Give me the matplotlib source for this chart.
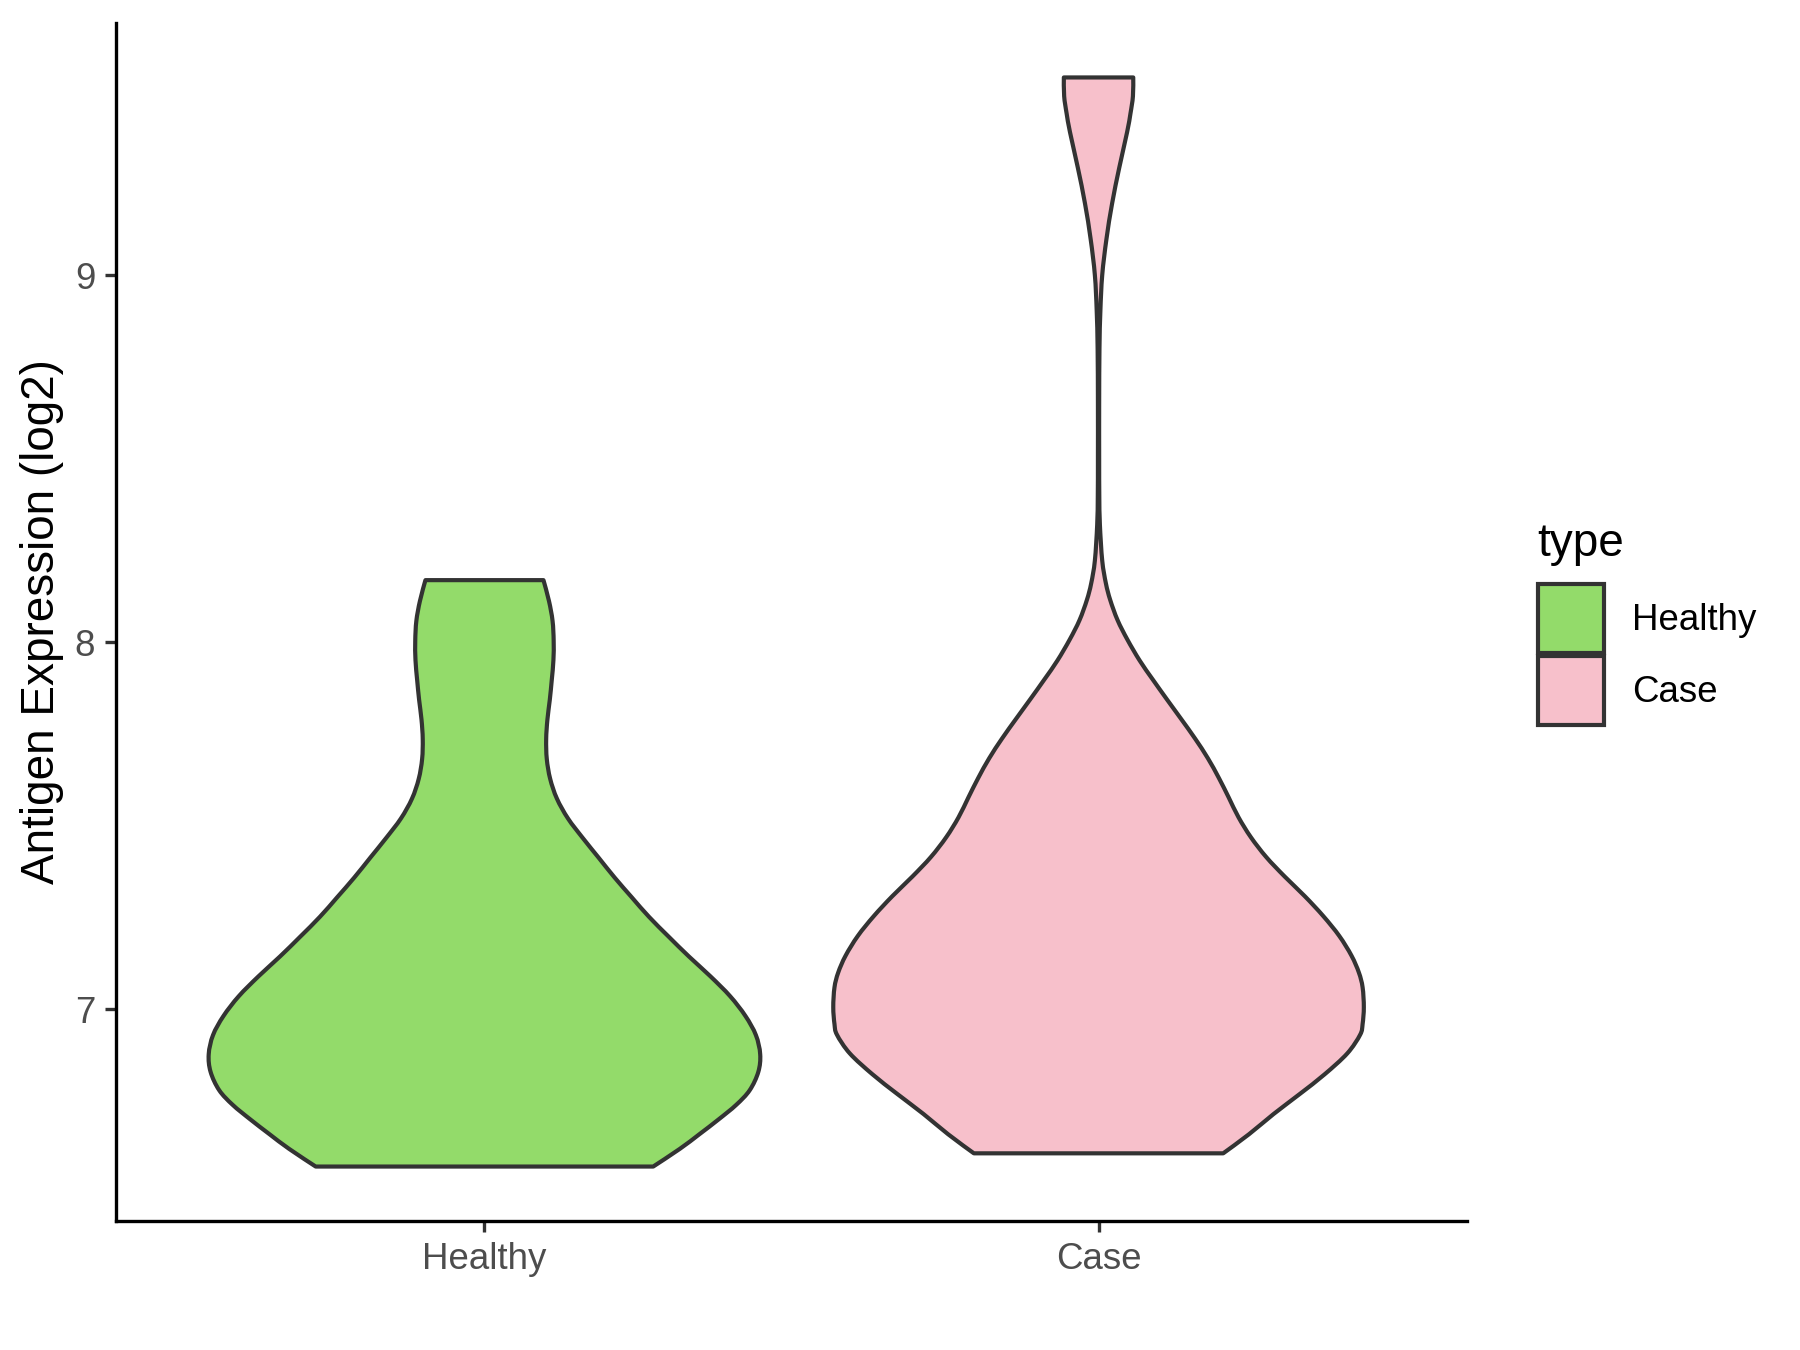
import numpy as np
import matplotlib
matplotlib.use("Agg")
import matplotlib.pyplot as plt
from matplotlib.path import Path
from matplotlib.patches import PathPatch, Patch, Rectangle
from matplotlib.legend_handler import HandlerPatch

plt.rcParams['font.family'] = ['Liberation Sans', 'DejaVu Sans']

# ---------------- data ----------------
categories = ['Healthy', 'Case']
fill_colors = ['#93DB6A', '#F7C0CB']

# violin outline: expression value (log2) and half-width (x units) of the density
healthy_y = [8.169, 8.112, 8.058, 8.004, 7.951, 7.897, 7.843, 7.789, 7.736, 7.682,
             7.628, 7.574, 7.520, 7.467, 7.413, 7.359, 7.305, 7.252, 7.198, 7.144,
             7.090, 7.036, 6.982, 6.930, 6.878, 6.830, 6.780, 6.740, 6.700, 6.660,
             6.620, 6.572]
healthy_halfwidth = [0.0961, 0.1051, 0.1109, 0.1127, 0.1123, 0.1096, 0.1064, 0.1025, 0.1005, 0.1015,
                     0.1070, 0.1180, 0.1360, 0.1600, 0.1860, 0.2120, 0.2400, 0.2680, 0.3000, 0.3330,
                     0.3680, 0.4000, 0.4250, 0.4420, 0.4490, 0.4460, 0.4320, 0.4100, 0.3810, 0.3500,
                     0.3180, 0.2748]

case_y = [9.538, 9.487, 9.440, 9.389, 9.292, 9.195, 9.097, 9.000, 8.903, 8.800,
          8.650, 8.500, 8.400, 8.320, 8.222, 8.160, 8.115, 8.060, 8.007, 7.950,
          7.899, 7.845, 7.792, 7.738, 7.684, 7.630, 7.577, 7.523, 7.469, 7.415,
          7.362, 7.308, 7.254, 7.200, 7.146, 7.100, 7.060, 7.006, 6.960, 6.931,
          6.880, 6.823, 6.770, 6.715, 6.660, 6.608]
case_halfwidth = [0.0565, 0.0560, 0.0520, 0.0465, 0.0337, 0.0221, 0.0128, 0.0060, 0.0030, 0.0015,
                  0.0010, 0.0010, 0.0012, 0.0022, 0.0060, 0.0120, 0.0190, 0.0310, 0.0470, 0.0670,
                  0.0880, 0.1110, 0.1340, 0.1570, 0.1780, 0.1960, 0.2120, 0.2280, 0.2480, 0.2730,
                  0.3030, 0.3360, 0.3660, 0.3920, 0.4120, 0.4240, 0.4300, 0.4320, 0.4300, 0.4260,
                  0.4050, 0.3680, 0.3280, 0.2850, 0.2450, 0.2030]

y_ticks = [7, 8, 9]
y_label = 'Antigen Expression (log2)'
legend_title = 'type'

profiles = [(healthy_y, healthy_halfwidth), (case_y, case_halfwidth)]


# ---------------- helpers ----------------
def catmull_rom(points):
    """Bezier control/end vertices (excluding the first point) through the points."""
    p = np.asarray(points, float)
    ext = np.vstack([p[0], p, p[-1]])
    verts = []
    for i in range(1, len(ext) - 2):
        p0, p1, p2, p3 = ext[i - 1], ext[i], ext[i + 1], ext[i + 2]
        c1 = p1 + (p2 - p0) / 6.0
        c2 = p2 - (p3 - p1) / 6.0
        verts += [c1, c2, p2]
    return verts


def violin_path(center, ys, hws):
    order = np.argsort(ys)
    ys = np.asarray(ys, float)[order]
    hws = np.asarray(hws, float)[order]
    right = np.column_stack([center + hws, ys])            # bottom -> top
    left = np.column_stack([center - hws, ys])[::-1]       # top -> bottom
    verts = [right[0]]
    codes = [Path.MOVETO]
    cr = catmull_rom(right)
    verts += cr
    codes += [Path.CURVE4] * len(cr)
    verts.append(left[0])
    codes.append(Path.LINETO)
    cl = catmull_rom(left)
    verts += cl
    codes += [Path.CURVE4] * len(cl)
    verts.append(right[0])
    codes.append(Path.CLOSEPOLY)
    return Path(verts, codes)


KEY_H = 16.6  # points


def key_patch(legend, orig_handle, xdescent, ydescent, width, height, fontsize):
    y0 = -ydescent + (height - KEY_H) / 2.0
    return Rectangle((-xdescent, y0), width, KEY_H)


# ---------------- figure ----------------
fig = plt.figure(figsize=(6, 4.5), dpi=300, facecolor='white')
ax = fig.add_axes([116 / 1800, 1 - 1221 / 1350, (1467 - 116) / 1800, (1221 - 23) / 1350])

for i, (ys, hws) in enumerate(profiles):
    path = violin_path(i + 1, ys, hws)
    ax.add_patch(PathPatch(path, facecolor=fill_colors[i], edgecolor='#333333',
                           linewidth=1.0, joinstyle='round', zorder=2))

all_y = np.concatenate([healthy_y, case_y])
ymin, ymax = all_y.min(), all_y.max()
pad = 0.05 * (ymax - ymin)
ax.set_ylim(ymin - pad, ymax + pad)
ax.set_xlim(0.4, len(categories) + 0.6)

ax.set_xticks(range(1, len(categories) + 1))
ax.set_xticklabels(categories)
ax.set_yticks(y_ticks)
ax.set_yticklabels([str(t) for t in y_ticks])

for s in ['top', 'right']:
    ax.spines[s].set_visible(False)
for s in ['left', 'bottom']:
    ax.spines[s].set_linewidth(0.8)
    ax.spines[s].set_color('black')
    ax.spines[s].set_capstyle('projecting')

ax.tick_params(axis='both', direction='out', length=2.75, width=0.8, color='#333333',
               labelsize=8.8, labelcolor='#4D4D4D', pad=2.2)

ax.set_ylabel(y_label, fontsize=11, color='black')
ax.yaxis.set_label_coords((64 - 116) / 1351, 0.5)

handles = [Patch(facecolor=c, edgecolor='#333333', linewidth=1.0, label=l)
           for c, l in zip(fill_colors, categories)]
leg = ax.legend(handles=handles, fontsize=8.8,
                loc='upper left', bbox_to_anchor=(1538 / 1800, 1 - 582.6 / 1350),
                bbox_transform=fig.transFigure, frameon=False, borderpad=0,
                handlelength=1.8, handleheight=2.644, handletextpad=0.76,
                labelspacing=0.0, borderaxespad=0,
                handler_map={Patch: HandlerPatch(patch_func=key_patch)})
fig.text(1537 / 1800, 1 - 544 / 1350, legend_title, fontsize=11, ha='left', va='center',
         color='black')

fig.savefig('out.png', dpi=300, facecolor='white')
